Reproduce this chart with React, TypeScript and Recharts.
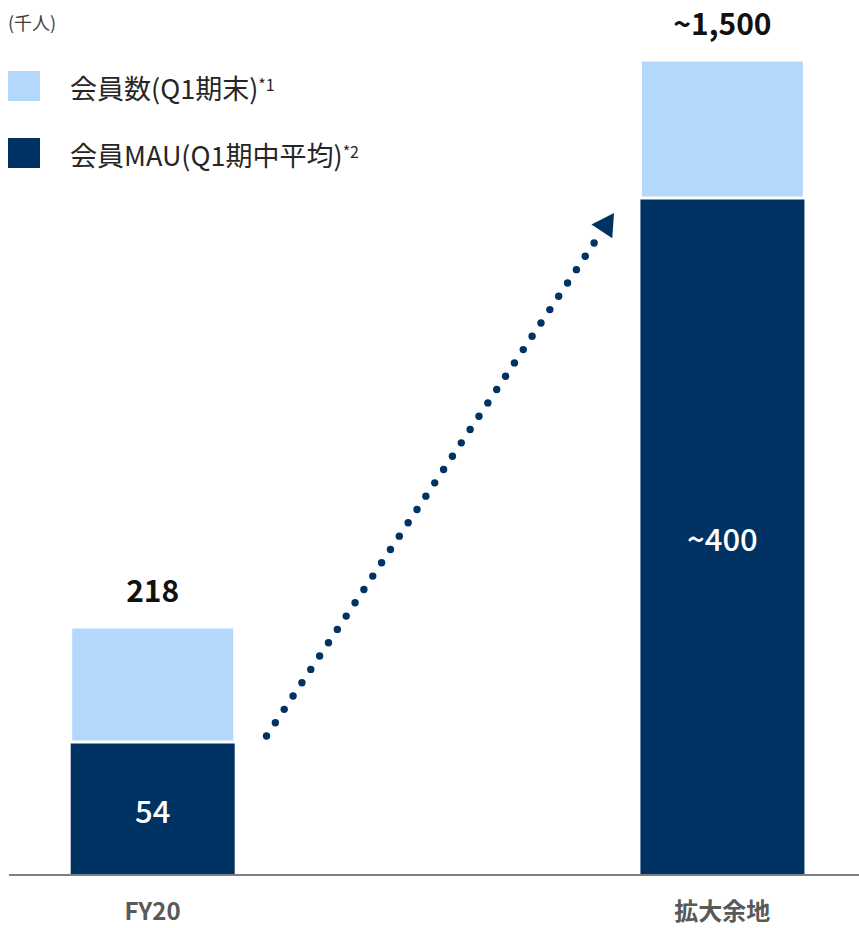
import { BarChart, Bar, XAxis, YAxis, LabelList, Legend, ReferenceLine } from 'recharts';

const CATEGORIES = ['FY20', '拡大余地'];
const TOTAL_LABELS = ['218', '~1,500'];
const MAU_LABELS = ['54', '~400'];
// the original slide is not drawn to scale, so these are the bar heights as drawn (px units)
const MAU_HEIGHT = [133, 677];
const MEMBERS_REST_HEIGHT = [115, 138];
const SERIES_NAMES = ['会員数(Q1期末)', '会員MAU(Q1期中平均)'];
const FOOTNOTES = ['*1', '*2'];

const LIGHT = '#b4d8fc';
const DARK = '#003263';
const FONT = '"Noto Sans CJK JP", "Noto Sans", sans-serif';

const data = CATEGORIES.map((name, i) => ({
  idx: i,
  name,
  mau: MAU_HEIGHT[i],
  members: MEMBERS_REST_HEIGHT[i],
  mauLabel: MAU_LABELS[i],
  totalLabel: TOTAL_LABELS[i],
}));

// dotted growth arrow, anchored in data space next to the MAU bar tops
const ARROW = [
  { x: 0.2, y: MAU_HEIGHT[0] + 6 },
  { x: 0.81, y: MAU_HEIGHT[1] - 15 },
];

function DottedArrow(props: any) {
  const { x1, y1, x2, y2 } = props;
  const dx = x2 - x1;
  const dy = y2 - y1;
  const len = Math.sqrt(dx * dx + dy * dy);
  const ux = dx / len;
  const uy = dy / len;
  const headLen = 22;
  const headHalf = 12.5;
  const lineLen = len - 36;
  const n = Math.round(lineLen / 15.8);
  const step = lineLen / n;
  const dots = [];
  for (let i = 0; i <= n; i++) {
    dots.push(<circle key={i} cx={x1 + ux * step * i} cy={y1 + uy * step * i} r={3.7} fill={DARK} />);
  }
  const bx = x2 - ux * headLen;
  const by = y2 - uy * headLen;
  const head = `${x2},${y2} ${bx - uy * headHalf},${by + ux * headHalf} ${bx + uy * headHalf},${by - ux * headHalf}`;
  return (
    <g>
      {dots}
      <polygon points={head} fill={DARK} />
    </g>
  );
}

function CategoryTick(props: any) {
  const { x, payload } = props;
  return (
    <text x={x} y={909} textAnchor="middle" dominantBaseline="central" fill="#595959" fontSize={24} fontWeight="bold" fontFamily={FONT}>
      {CATEGORIES[payload.value]}
    </text>
  );
}

function LegendBox() {
  const colors = [LIGHT, DARK];
  return (
    <div style={{ fontFamily: FONT }}>
      {SERIES_NAMES.map((name, i) => (
        <div key={name} style={{ display: 'flex', alignItems: 'center', height: 30, marginBottom: i === 0 ? 37 : 0 }}>
          <span style={{ width: 32, height: 30, background: colors[i], display: 'inline-block', marginRight: 30 }} />
          <span style={{ fontSize: 27, color: '#262626', whiteSpace: 'nowrap', lineHeight: '30px' }}>
            {name}
            <sup style={{ fontSize: 16, verticalAlign: 8 }}>{FOOTNOTES[i]}</sup>
          </span>
        </div>
      ))}
    </div>
  );
}

export default function App() {
  return (
    <div style={{ position: 'absolute', left: 0, top: 0, width: 859, height: 928, background: '#fff', fontFamily: FONT }}>
      <div style={{ position: 'absolute', left: 8, top: 9, fontSize: 18, color: '#404040', zIndex: 2 }}>(千人)</div>
      <BarChart width={859} height={928} data={data} margin={{ top: 0, right: 0, bottom: 0, left: 9 }}>
        <XAxis
          dataKey="idx"
          type="number"
          domain={[-0.252, 1.24]}
          ticks={[0, 1]}
          height={53}
          tickLine={false}
          axisLine={{ stroke: '#7f7f7f', strokeWidth: 2 }}
          tick={<CategoryTick />}
        />
        <YAxis hide domain={[0, 875]} />
        <Legend
          layout="vertical"
          align="center"
          verticalAlign="middle"
          wrapperStyle={{ left: 8, top: 71, width: 440, height: 100 }}
          content={() => <LegendBox />}
        />
        <Bar dataKey="mau" stackId="a" fill={DARK} barSize={164} isAnimationActive={false}>
          <LabelList dataKey="mauLabel" position="center" dy={3} fill="#fff" fontSize={31} fontWeight={500} fontFamily={FONT} />
        </Bar>
        <Bar dataKey="members" stackId="a" fill={LIGHT} stroke="#fff" strokeWidth={3} barSize={164} isAnimationActive={false}>
          <LabelList dataKey="totalLabel" position="top" offset={25} fill="#111" fontSize={30} fontWeight="bold" fontFamily={FONT} />
        </Bar>
        <ReferenceLine segment={ARROW} ifOverflow="visible" shape={<DottedArrow />} />
      </BarChart>
    </div>
  );
}
